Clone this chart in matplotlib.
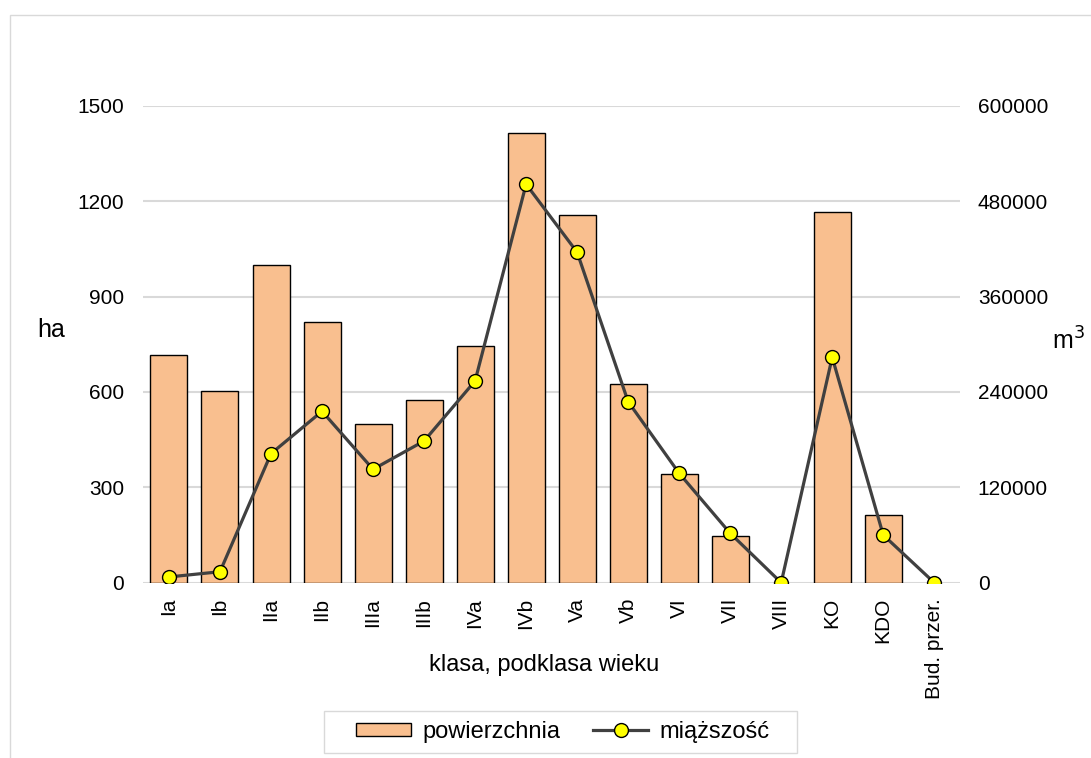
import numpy as np
import matplotlib.pyplot as plt
from matplotlib.patches import Rectangle

plt.rcParams['font.family'] = ['Liberation Sans', 'DejaVu Sans']

# dane: klasy wieku, powierzchnia [ha], miąższość [m3]
klasy = ['Ia', 'Ib', 'IIa', 'IIb', 'IIIa', 'IIIb', 'IVa', 'IVb', 'Va', 'Vb',
         'VI', 'VII', 'VIII', 'KO', 'KDO', 'Bud. przer.']
powierzchnia = [716, 603, 1000, 819, 499, 574, 746, 1416, 1156, 626,
                342, 148, 0, 1167, 213, 0]
miazszosc = [7200, 13800, 162400, 215700, 142700, 178300, 253900, 501500,
             415900, 227800, 137700, 62200, 0, 283700, 60000, 0]

x = np.arange(len(klasy))

fig = plt.figure(figsize=(10.91, 7.58), dpi=100)
ax = fig.add_axes([0.1315, 0.2313, 0.7482, 0.6289])
ax2 = ax.twinx()

# ramka wykresu (prawa i dolna krawędź poza obrazkiem)
fig.patches.append(Rectangle((10/1091, -0.05), 1.1, 1.05 - 15/758, transform=fig.transFigure,
                             fill=False, edgecolor='#d9d9d9', linewidth=1.0))

# słupki o zerowej wysokości bez obramowania
krawedz = ['black' if v > 0 else 'none' for v in powierzchnia]
ax.bar(x, powierzchnia, width=0.725, color='#F9BF8F', edgecolor=krawedz,
       linewidth=1.0, label='powierzchnia', zorder=2)
ax2.plot(x, miazszosc, color='#404040', linewidth=2.3, marker='o',
         markersize=10, markerfacecolor='#FFFF00', markeredgecolor='black',
         markeredgewidth=1.0, label='miąższość', zorder=3)

ax.set_xlim(-0.5, len(klasy) - 0.5)
ax.set_ylim(0, 1500)
ax2.set_ylim(0, 600000)
ax.set_yticks(np.arange(0, 1501, 300))
ax2.set_yticks(np.arange(0, 600001, 120000))
ax.yaxis.grid(True, color='#d9d9d9', linewidth=1.5, zorder=0)
ax.set_axisbelow(True)

ax.set_xticks(x)
ax.set_xticklabels(klasy, rotation=90)
for a in (ax, ax2):
    for s in a.spines.values():
        s.set_visible(False)
    a.tick_params(length=0, labelsize=15, colors='black')
ax.tick_params(axis='y', pad=14)
ax2.tick_params(axis='y', pad=13)
ax.tick_params(axis='x', pad=11)

fig.text(51/1091, 1 - 330/758, 'ha', fontsize=18, ha='center', va='center')
fig.text(1068/1091, 1 - 341/758, 'm$^3$', fontsize=18, ha='center', va='center')
fig.text(544/1091, 1 - 665/758, 'klasa, podklasa wieku', fontsize=17, ha='center', va='center')

h1, l1 = ax.get_legend_handles_labels()
h2, l2 = ax2.get_legend_handles_labels()
leg = fig.legend(h1 + h2, l1 + l2, loc='center', bbox_to_anchor=(563/1091, 1 - 732/758),
                 ncol=2, fontsize=17, frameon=False, handleheight=0.5,
                 handlelength=2.3, handletextpad=0.5, columnspacing=1.4, borderpad=0.35)
# ramka legendy rysowana osobno (szersza niż domyślna)
fig.patches.append(Rectangle((324/1091, 1 - 753/758), 473/1091, 42/758, transform=fig.transFigure,
                             fill=False, edgecolor='#d9d9d9', linewidth=1.0))

fig.savefig('out.png', dpi=100)
